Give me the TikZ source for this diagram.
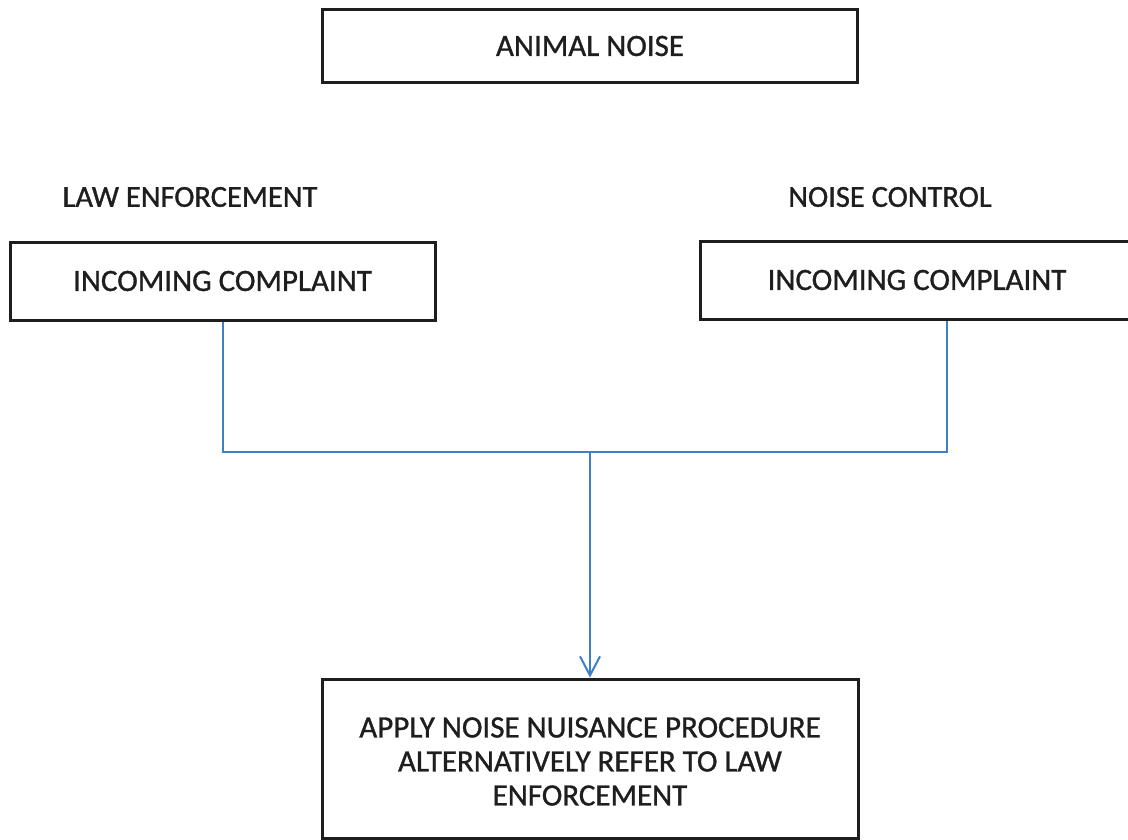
\documentclass[tikz,border=0pt]{standalone}
\usepackage{fontspec}
\setmainfont{Carlito}
\newfontfamily\scanfont{Carlito}[FakeBold=1.0]
\usetikzlibrary{arrows.meta}
\definecolor{framegray}{HTML}{1E1E1E}
\definecolor{linkblue}{HTML}{3F7FC6}
\tikzset{
  box/.style={draw=framegray, line width=3pt, rectangle, inner sep=0pt,
    align=center, text=framegray, font=\scanfont\fontsize{31}{34}\selectfont},
  heading/.style={text=framegray, inner sep=0pt, font=\scanfont\fontsize{30.5}{34}\selectfont},
  conn/.style={draw=linkblue, line width=2pt},
  tip/.style={-{Straight Barb[length=19pt,width=20pt,line width=2pt]}}
}
\begin{document}
\begin{tikzpicture}[x=1pt,y=-1pt]
\clip (0,0) rectangle (1128,840);
\fill[white] (0,0) rectangle (1128,840);

% title
\node[box, minimum width=535pt, minimum height=73pt] (title) at (590,46) {ANIMAL NOISE};

% the two departments
\node[heading] (lawlbl) at (190,197) {LAW ENFORCEMENT};
\node[heading] (noiselbl) at (890,197) {NOISE CONTROL};

\node[box, minimum width=425pt, minimum height=78pt] (lc) at (222.5,281) {INCOMING COMPLAINT};
\node[box, minimum width=434pt, minimum height=78pt] (rc) at (917,280) {INCOMING COMPLAINT};

% outcome
\node[box, minimum width=536pt, minimum height=159pt] (act) at (590,758.5) {};
\node[align=center, text=framegray, inner sep=0pt, font=\scanfont\fontsize{31}{34}\selectfont]
  (acttext) at ([yshift=-3pt]act.center)
  {APPLY NOISE NUISANCE PROCEDURE\\ALTERNATIVELY REFER TO LAW\\ENFORCEMENT};

% connectors
\coordinate (hub) at (590,452);
\coordinate (rfoot) at ([xshift=30pt]rc.south);
\draw[conn] (lc.south) |- (hub);
\draw[conn] (hub) -| (rfoot);
\draw[conn, tip] (hub) -- (act.north);
\end{tikzpicture}
\end{document}
